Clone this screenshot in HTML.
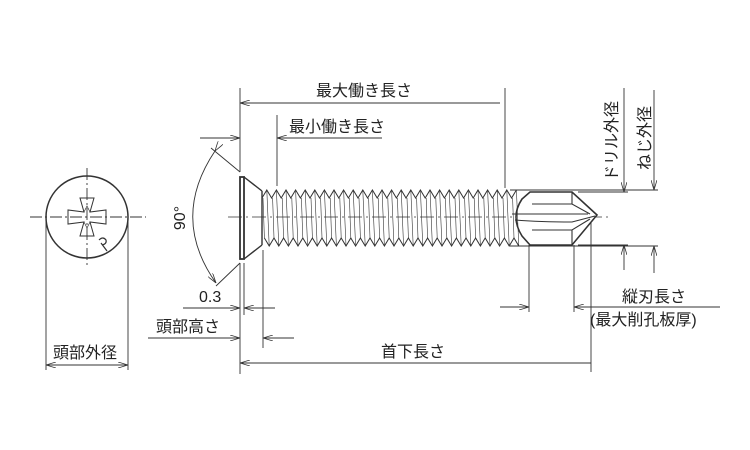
<!DOCTYPE html>
<html><head><meta charset="utf-8"><style>
html,body{margin:0;padding:0;background:#fff;}
svg{display:block}
text{font-family:"Liberation Sans","Noto Sans CJK JP",sans-serif;fill:#222;font-size:16px}
</style></head><body>
<svg id="s" width="750" height="450" viewBox="0 0 750 450" xmlns="http://www.w3.org/2000/svg">
<defs>
<marker id="a" markerWidth="10" markerHeight="6" refX="10" refY="3" orient="auto" markerUnits="userSpaceOnUse"><path d="M0,0 L10,3 L0,6" fill="none" stroke="#333" stroke-width="0.8"/></marker>
</defs>
<g stroke="#333" stroke-width="0.9" fill="none">
<circle cx="87" cy="217" r="41" stroke-width="1.5"/>
<line x1="87" y1="168" x2="87" y2="268" stroke-dasharray="12,3,2,3"/>
<line x1="30" y1="217" x2="146" y2="217" stroke-dasharray="12,3,2,3"/>
<path d="M80,198 L94,198 L90,212 L106,210 L106,224 L90,222 L94,236 L80,236 L84,222 L68,224 L68,210 L84,212 Z" stroke-width="1"/>
<path d="M84,212 L87,206 L90,212 M90,222 L87,228 L84,222" stroke-width="0.7"/>
<path d="M99,240 q4,-4 7,0 q1,4 -4,5 M101,243 l6,8" stroke-width="1.2"/>
<line x1="46" y1="217" x2="46" y2="370"/>
<line x1="128" y1="217" x2="128" y2="370"/>
<line x1="87" y1="365" x2="46" y2="365" marker-end="url(#a)"/>
<line x1="87" y1="365" x2="128" y2="365" marker-end="url(#a)"/>
<rect x="240" y="177" width="4" height="82" stroke-width="1.8"/>
<path d="M244,177 L262,191 M244,259 L262,245 M262,191 L262,245" stroke-width="1.4"/>
<line x1="228" y1="217" x2="612" y2="217" stroke-dasharray="14,4,2,4" stroke-width="0.8"/>
<line x1="240" y1="172" x2="211" y2="148"/>
<line x1="240" y1="263" x2="216" y2="286"/>
<path d="M215,151 Q170,218 216,283" marker-start="url(#a)" marker-end="url(#a)"/>
<line x1="240" y1="88" x2="240" y2="172"/>
<line x1="240" y1="263" x2="240" y2="374"/>
<line x1="244" y1="263" x2="244" y2="315"/>
<line x1="263" y1="250" x2="263" y2="348"/>
<line x1="277" y1="115" x2="277" y2="186"/>
<line x1="505" y1="88" x2="505" y2="188"/>
<line x1="500" y1="103" x2="240" y2="103" marker-end="url(#a)"/>
<line x1="200" y1="138" x2="240" y2="138" marker-end="url(#a)"/>
<line x1="382" y1="138" x2="277" y2="138" marker-end="url(#a)"/>
<line x1="183" y1="308" x2="240" y2="308" marker-end="url(#a)"/>
<line x1="275" y1="308" x2="244" y2="308" marker-end="url(#a)"/>
<line x1="148" y1="338" x2="240" y2="338" marker-end="url(#a)"/>
<line x1="294" y1="338" x2="263" y2="338" marker-end="url(#a)"/>
<line x1="591" y1="363" x2="240" y2="363" marker-end="url(#a)"/>
<line x1="591" y1="215" x2="591" y2="372"/>
<line x1="529" y1="245" x2="529" y2="312"/>
<line x1="574" y1="245" x2="574" y2="312"/>
<line x1="500" y1="307" x2="529" y2="307" marker-end="url(#a)"/>
<line x1="720" y1="307" x2="574" y2="307" marker-end="url(#a)"/>
<line x1="578" y1="192" x2="628" y2="192"/>
<line x1="578" y1="245" x2="628" y2="245"/>
<line x1="624" y1="88" x2="624" y2="192" marker-end="url(#a)"/>
<line x1="624" y1="270" x2="624" y2="245" marker-end="url(#a)"/>
<line x1="510" y1="190" x2="658" y2="190"/>
<line x1="510" y1="246" x2="658" y2="246"/>
<line x1="654" y1="90" x2="654" y2="190" marker-end="url(#a)"/>
<line x1="654" y1="273" x2="654" y2="246" marker-end="url(#a)"/>
<path d="M530,192 L572,192 L597,215 L572,245 L530,245 L522,236 Q510,217 522,199 Z" stroke-width="1.6" fill="#fff"/>
<path d="M532,204 L572,204 L590,214 M532,230 L572,230 L590,219 M572,192 L572,204 M572,230 L572,245 M512,214 L588,214 M515,220 Q540,222 572,222 L595,216" stroke-width="1.1"/>
<g id="th" stroke-width="1"></g>
</g>
<text x="316" y="96">最大働き長さ</text>
<text x="289" y="132">最小働き長さ</text>
<text x="199" y="302">0.3</text>
<text x="156" y="332">頭部高さ</text>
<text x="381" y="357">首下長さ</text>
<text x="53" y="358">頭部外径</text>
<text x="622" y="302">縦刃長さ</text>
<text x="590" y="325">(最大削孔板厚)</text>
<text transform="translate(185,218) rotate(-90)" text-anchor="middle">90°</text>
<text transform="translate(617,141) rotate(-90)" text-anchor="middle" font-size="15">ドリル外径</text>
<text transform="translate(650,138) rotate(-90)" text-anchor="middle" font-size="15">ねじ外径</text>
</svg>
<script>
var g=document.getElementById('th'),p=9.6,x0=262,x1=518,t='',b='',l='';
for(var x=x0;x<x1;x+=p){
 t+=(x==x0?'M':'L')+x+',198 L'+(x+p/2)+',190 ';
 b+=(x==x0?'M':'L')+(x+p/4)+',238 L'+(x+p*3/4)+',246 ';
 l+='M'+(x+p/2)+',190 L'+(x+p*3/4)+',246 M'+(x+1)+',198 L'+(x+p/4)+',238 ';
}
g.innerHTML='<path d="'+t+'"/><path d="'+b+'"/><path d="'+l+'" stroke-width="0.6"/>';
</script>
</body></html>
